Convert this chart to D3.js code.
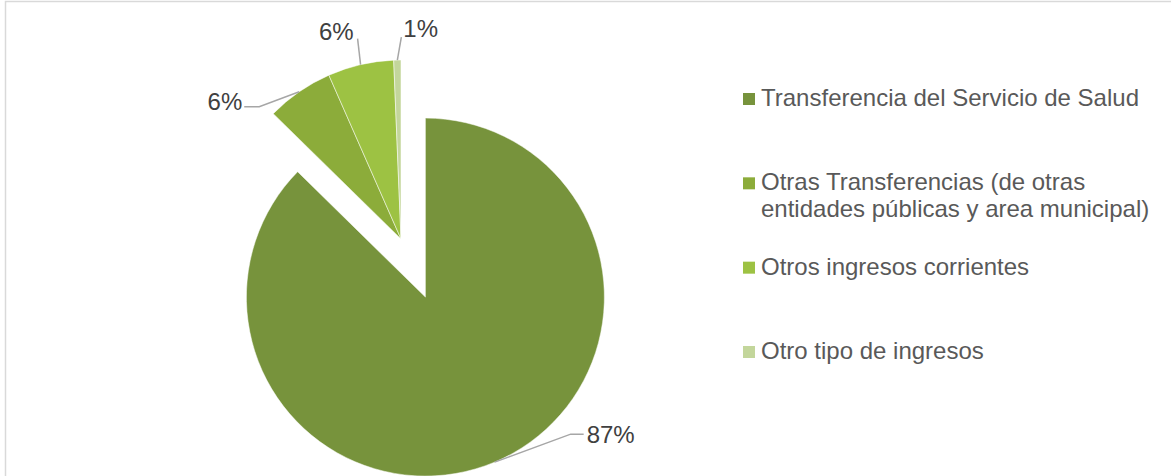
<!DOCTYPE html>
<html>
<head>
<meta charset="utf-8">
<script src="https://cdn.jsdelivr.net/npm/d3@7"></script>
<style>
body { margin: 0; background: #fff; }
svg { display: block; font-family: "Liberation Sans", Arial, sans-serif; }
</style>
</head>
<body>
<svg width="1171" height="476"></svg>
<script>
// data
var categories = ["Transferencia del Servicio de Salud",
	"Otras Transferencias (de otras entidades públicas y area municipal)",
	"Otros ingresos corrientes",
	"Otro tipo de ingresos"];
var legendLines = [["Transferencia del Servicio de Salud"],
	["Otras Transferencias (de otras", "entidades públicas y area municipal)"],
	["Otros ingresos corrientes"],
	["Otro tipo de ingresos"]];
var values = [87.35, 6.05, 5.95, 0.65];
var colors = ["#77933c", "#8cac3a", "#9dc243", "#c3d69b"];

var svg = d3.select("svg"),
width = +svg.attr("width"),
height = +svg.attr("height");

// chart border
svg.append("rect")
.attr("x", 5.5).attr("y", 1.5)
.attr("width", width + 20).attr("height", height + 20)
.attr("fill", "none")
.attr("stroke", "#d9d9d9")
.attr("stroke-width", 1.5);

var cx = 401, cy = 239, radius = 179, explode = 63;

var pie = d3.pie().sort(null).value(function(d) { return d; });
var arc = d3.arc().innerRadius(0).outerRadius(radius);
var edge = d3.arc().innerRadius(radius).outerRadius(radius);

var arcs = pie(values);

// only the big slice is pulled out
function offset(d, i) {
	if (i != 0) return [0, 0];
	var a = (d.startAngle + d.endAngle) / 2;
	return [Math.sin(a) * explode, -Math.cos(a) * explode];
}

var g = svg.append("g").attr("transform", "translate(" + cx + "," + cy + ")");

g.selectAll("path.slice")
.data(arcs)
.enter().append("path")
.attr("class", "slice")
.attr("transform", function(d, i) { var o = offset(d, i); return "translate(" + o[0] + "," + o[1] + ")"; })
.attr("d", arc)
.attr("fill", function(d, i) { return colors[i]; })
.attr("stroke", "#fff")
.attr("stroke-width", 0.5);

// label leader shapes (elbow from the edge point, then short run, then text)
var leaders = [
	{ dx: 76, dy: -28, run: 13, anchor: "start" },
	{ dx: -40, dy: 15, run: -15, anchor: "end" },
	{ dx: -3, dy: -26, run: 0, anchor: "end" },
	{ dx: 4, dy: -23, run: 0, anchor: "start" }
];

arcs.forEach(function(d, i) {
	var o = offset(d, i);
	var p = edge.centroid(d);
	var x0 = p[0] + o[0], y0 = p[1] + o[1];
	var L = leaders[i];
	var x1 = x0 + L.dx, y1 = y0 + L.dy, x2 = x1 + L.run;
	g.append("polyline")
	.attr("points", [[x0, y0], [x1, y1], [x2, y1]].map(function(q) { return q.join(","); }).join(" "))
	.attr("fill", "none")
	.attr("stroke", "#a6a6a6")
	.attr("stroke-width", 1.5);

	var tx, ty;
	if (i == 0) { tx = x2 + 3; ty = y1 + 9; }
	else if (i == 1) { tx = x2 - 2; ty = y1 + 3; }
	else if (i == 2) { tx = x2 - 4; ty = y1 + 1; }
	else { tx = x2 + 2; ty = y1 + 0; }
	g.append("text")
	.attr("x", tx).attr("y", ty)
	.attr("text-anchor", L.anchor)
	.attr("font-size", 24)
	.attr("fill", "#404040")
	.text(Math.round(d.value) + "%");
});

// legend
var legendY = d3.scalePoint().domain(d3.range(categories.length)).range([106, 359]);

var legend = svg.append("g")
.selectAll("g")
.data(categories)
.enter().append("g")
.attr("transform", function(d, i) { return "translate(743," + legendY(i) + ")"; });

legend.append("rect")
.attr("x", 0).attr("y", -13)
.attr("width", 12).attr("height", 12)
.attr("fill", function(d, i) { return colors[i]; });

legend.append("text")
.attr("x", 18).attr("y", 0)
.attr("font-size", 24)
.attr("fill", "#595959")
.selectAll("tspan")
.data(function(d, i) { return legendLines[i]; })
.enter().append("tspan")
.attr("x", 18)
.attr("dy", function(d, j) { return j == 0 ? 0 : 27; })
.text(function(d) { return d; });
</script>
</body>
</html>
